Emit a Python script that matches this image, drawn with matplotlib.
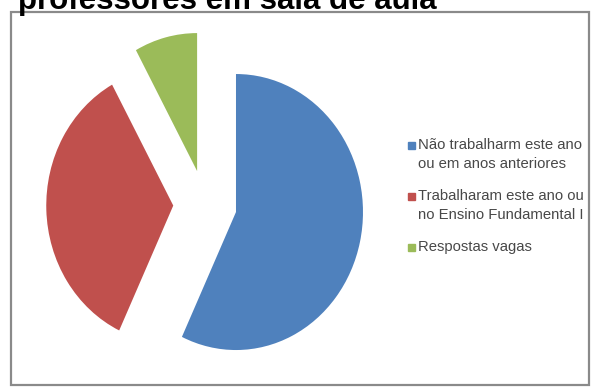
import matplotlib.pyplot as plt
from matplotlib.patches import Rectangle

# Respostas dos professores
categorias = [
    "Não trabalharm este ano\nou em anos anteriores",
    "Trabalharam este ano ou\nno Ensino Fundamental I",
    "Respostas vagas",
]
valores = [57, 35, 8]
cores = ["#4F81BD", "#C0504D", "#9BBB59"]
titulo = "professores em sala de aula"

W, H = 592, 387
fig = plt.figure(figsize=(W / 100, H / 100), dpi=100)
fig.patch.set_facecolor("white")

# moldura cinza do gráfico
fig.add_artist(Rectangle((11 / W, 1 - 385 / H), 578 / W, 373 / H,
                         transform=fig.transFigure, fill=False,
                         edgecolor="#8a8a8a", linewidth=1.6, zorder=0))

# título (cortado no topo)
fig.text(18 / W, 1 - 9 / H, titulo, fontsize=22.5, fontweight="bold",
         family="Liberation Sans", va="baseline", ha="left", color="black")

# eixo da pizza: um pouco achatada na horizontal
cx, cy = 205, 204.5
rx, ry = 127, 138
x0, x1 = 15, 395
y0, y1 = 14, 384
ax = fig.add_axes([x0 / W, 1 - y1 / H, (x1 - x0) / W, (y1 - y0) / H])
wedges, _ = ax.pie(valores, colors=cores, explode=[0.25, 0.25, 0.25],
                   startangle=90, counterclock=False,
                   wedgeprops=dict(linewidth=0))
ax.set_aspect("auto")
ax.set_xlim((x0 - cx) / rx, (x1 - cx) / rx)
ax.set_ylim(-(y1 - cy) / ry, (cy - y0) / ry)
ax.axis("off")
for w in wedges:
    w.set_clip_on(False)

# legenda: marcador alinhado à primeira linha de cada item
linhas_y = [145, 196, 247]
passo = 19.5
for cat, cor, yy in zip(categorias, cores, linhas_y):
    fig.add_artist(Rectangle((408 / W, 1 - (yy + 3.5) / H), 7 / W, 7 / H,
                             transform=fig.transFigure, color=cor))
    for i, linha in enumerate(cat.split("\n")):
        fig.text(418 / W, 1 - (yy + i * passo) / H, linha, fontsize=10.7,
                 family="Liberation Sans", color="#484848",
                 va="center", ha="left")

fig.savefig("out.png", dpi=100)
